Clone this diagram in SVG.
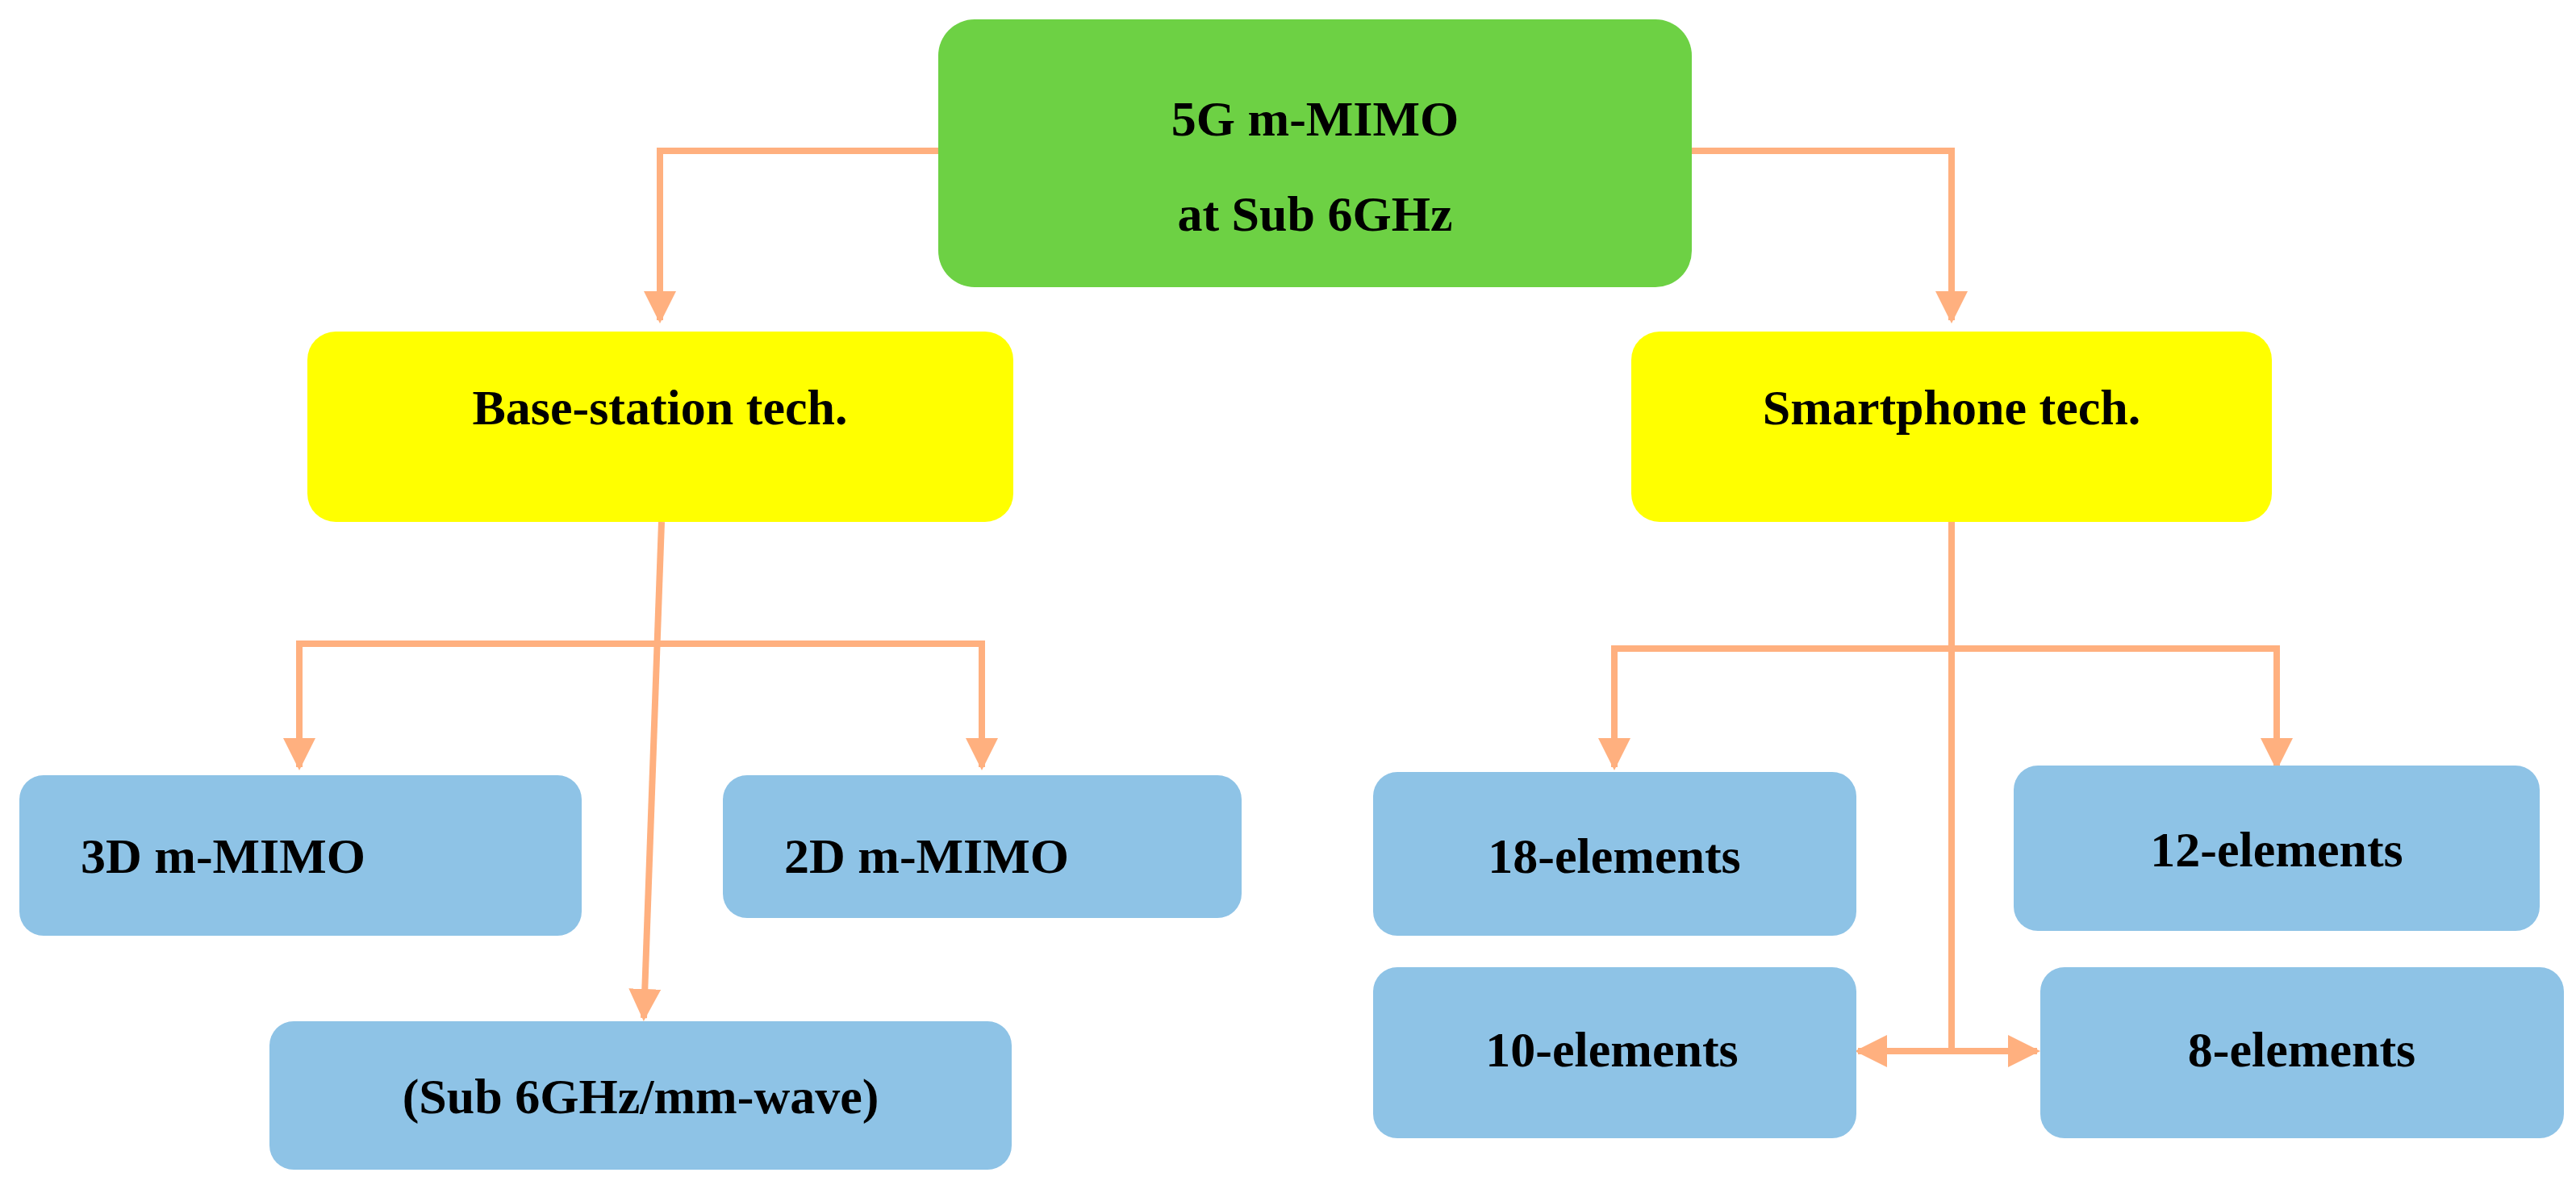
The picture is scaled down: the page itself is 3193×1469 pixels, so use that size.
<svg xmlns="http://www.w3.org/2000/svg" width="3193" height="1469" viewBox="0 0 3193 1469">
<defs>
<style>
.t{font-family:"Liberation Serif",serif;font-weight:bold;font-size:62px;fill:#000}
.c{fill:none;stroke:#FFB07F;stroke-width:8}
.b{fill:#8EC3E6}
</style>
<marker id="a" viewBox="0 0 10 10" refX="9" refY="5" markerWidth="5" markerHeight="5" markerUnits="strokeWidth" orient="auto"><path d="M0,0L10,5L0,10z" fill="#FFB07F"/></marker>
</defs>
<rect width="3193" height="1469" fill="#fff"/>
<g id="connectors">
<path class="c" d="M1163,187H818V397" marker-end="url(#a)"/>
<path class="c" d="M2097,187H2419V397" marker-end="url(#a)"/>
<path class="c" d="M371,951V798H1217V951" marker-end="url(#a)"/>
<path class="c" d="M371,798V951" marker-end="url(#a)"/>
<path class="c" d="M820,647L798,1262" marker-end="url(#a)"/>
<path class="c" d="M2419,647V1303"/>
<path class="c" d="M2001,951V804H2822V951" marker-end="url(#a)"/>
<path class="c" d="M2001,804V951" marker-end="url(#a)"/>
<path class="c" d="M2419,1303H2303" marker-end="url(#a)"/>
<path class="c" d="M2419,1303H2525" marker-end="url(#a)"/>
</g>
<g id="root"><rect x="1163" y="24" width="934" height="332" rx="45" fill="#6DD144"/>
<text class="t" x="1630" y="168" text-anchor="middle">5G m-MIMO</text>
<text class="t" x="1630" y="286" text-anchor="middle">at Sub 6GHz</text></g>
<g id="base"><rect x="381" y="411" width="875" height="236" rx="35" fill="#FFFF00"/>
<text class="t" x="818" y="526" text-anchor="middle">Base-station tech.</text></g>
<g id="smart"><rect x="2022" y="411" width="794" height="236" rx="35" fill="#FFFF00"/>
<text class="t" x="2419" y="526" text-anchor="middle">Smartphone tech.</text></g>
<g id="n3d"><rect class="b" x="24" y="961" width="697" height="199" rx="30"/>
<text class="t" x="100" y="1082">3D m-MIMO</text></g>
<g id="n2d"><rect class="b" x="896" y="961" width="643" height="177" rx="30"/>
<text class="t" x="972" y="1082">2D m-MIMO</text></g>
<g id="nsub"><rect class="b" x="334" y="1266" width="920" height="184" rx="30"/>
<text class="t" x="794" y="1380" text-anchor="middle">(Sub 6GHz/mm-wave)</text></g>
<g id="n18"><rect class="b" x="1702" y="957" width="599" height="203" rx="30"/>
<text class="t" x="2001" y="1082" text-anchor="middle">18-elements</text></g>
<g id="n12"><rect class="b" x="2496" y="949" width="652" height="205" rx="30"/>
<text class="t" x="2822" y="1074" text-anchor="middle">12-elements</text></g>
<g id="n10"><rect class="b" x="1702" y="1199" width="599" height="212" rx="30"/>
<text class="t" x="1998" y="1322" text-anchor="middle">10-elements</text></g>
<g id="n8"><rect class="b" x="2529" y="1199" width="649" height="212" rx="30"/>
<text class="t" x="2853" y="1322" text-anchor="middle">8-elements</text></g>
</svg>
